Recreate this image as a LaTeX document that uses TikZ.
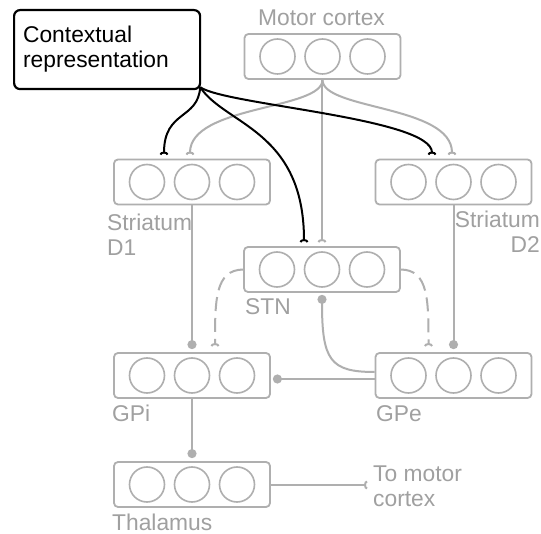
\documentclass[tikz,border=0pt]{standalone}
\usepackage{fontspec}
\setmainfont{Liberation Sans}
\usetikzlibrary{arrows.meta}

\definecolor{regiongray}{RGB}{175,175,175}
\definecolor{labelgray}{RGB}{160,160,160}

% A brain region: rounded box holding three units
\newcommand\brainregion[3]{%
  \node[region] (#1) at (#2,#3) {};
  \node[cell] (#1-1) at (#2-45,#3) {};
  \node[cell] (#1-2) at (#2,#3) {};
  \node[cell] (#1-3) at (#2+45,#3) {};
}

\begin{document}
\begin{tikzpicture}[x=1pt,y=-1pt,
  every node/.style={font=\fontsize{22.8}{25}\selectfont},
  region/.style={draw=regiongray, line width=1.8pt, rounded corners=4pt,
    minimum width=156pt, minimum height=45pt, inner sep=0pt},
  cell/.style={circle, draw=regiongray, line width=1.6pt,
    minimum size=35pt, inner sep=0pt},
  lbl/.style={text=labelgray, inner sep=0pt, align=left},
  link/.style={draw=regiongray, line width=2pt},
  dashedlink/.style={link, dash pattern=on 14pt off 7pt},
  ctxlink/.style={draw=black, line width=2pt},
  exc/.style={-{Arc Barb[reversed,length=3pt,width=9pt]}},
  inh/.style={-{Circle[length=9pt]}},
]
\path[fill=white] (0,0) rectangle (541,534);
\useasboundingbox (0,0) rectangle (541,534);

% regions
\brainregion{motor}{322.5}{56.5}
\brainregion{done}{192}{182}
\brainregion{dtwo}{453.5}{182}
\brainregion{stn}{322}{269.5}
\brainregion{gpi}{192}{375.5}
\brainregion{gpe}{453.5}{375.5}
\brainregion{thal}{192}{484.5}

% region labels
\node[lbl, anchor=base] (motorlbl) at (321.5,26) {Motor cortex};
\node[lbl, anchor=north west] (donelbl) at (107,214) {Striatum\\D1};
\node[lbl, anchor=north east, align=right] (dtwolbl) at (540,211) {Striatum\\D2};
\node[lbl, anchor=base west] (stnlbl) at (245,315) {STN};
\node[lbl, anchor=base west] (gpilbl) at (112,422) {GPi};
\node[lbl, anchor=base west] (gpelbl) at (376,422) {GPe};
\node[lbl, anchor=base west] (thallbl) at (112,530) {Thalamus};
\node[lbl, anchor=north west] (tomotorlbl) at (373,466) {To motor\\cortex};

% context box
\node[draw=black, line width=2.2pt, rounded corners=6pt, text width=168pt,
  inner xsep=9pt, inner ysep=0pt, minimum height=79pt, align=left,
  anchor=north west] (ctx) at (13,9) {Contextual\\representation};

% cortical input
\draw[link, exc] (motor.south) .. controls (322.5,110) and (190,105) .. ([xshift=-2pt,yshift=4pt]done.north);
\draw[link, exc] (motor.south) .. controls (322.5,110) and (452,105) .. ([xshift=-1.5pt,yshift=4pt]dtwo.north);
\draw[link, exc] (stn.north |- motor.south) -- ([yshift=4pt]stn.north);

% basal ganglia pathways
\draw[link, inh] (done.south) -- ([yshift=3pt]gpi.north);
\draw[link, inh] (dtwo.south) -- ([yshift=3pt]gpe.north);
\draw[link, inh] ([yshift=-3.5pt]gpe.west) -- ([xshift=2pt,yshift=-3.5pt]gpi.east);
\draw[link, inh] ([yshift=3.5pt]gpe.west) .. controls (330,372) and (322,360) .. ([yshift=-2pt]stn.south);
\draw[dashedlink, exc] (stn.west) .. controls (215,270) and (215,300) .. ([xshift=23pt,yshift=6pt]gpi.north);
\draw[dashedlink, exc] (stn.east) .. controls (428.5,270) and (428.5,300) .. ([xshift=-25pt,yshift=6pt]gpe.north);
\draw[link, inh] (gpi.south) -- ([yshift=3pt]thal.north);
\coordinate (tomotor) at (367,485);
\draw[link, exc] (thal.east |- tomotor) -- (tomotor);

% contextual input
\coordinate (ctxout) at ([xshift=-1pt,yshift=3pt]ctx.south east);
\draw[ctxlink, exc] (ctxout) .. controls (198,120) and (164,110) .. ([xshift=-28pt,yshift=4pt]done.north);
\draw[ctxlink, exc] (ctxout) .. controls (225,125) and (304,130) .. ([xshift=-18pt,yshift=4pt]stn.north);
\draw[ctxlink, exc] (ctxout) .. controls (225,105) and (432,118) .. ([xshift=-21.5pt,yshift=4pt]dtwo.north);
\end{tikzpicture}
\end{document}
